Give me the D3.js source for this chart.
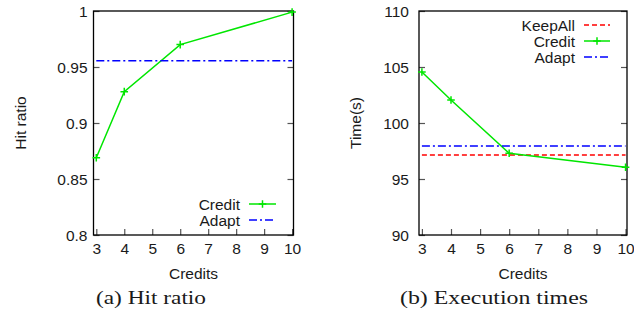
<!DOCTYPE html>
<html>
<head>
<meta charset="utf-8">
<script src="https://cdn.jsdelivr.net/npm/d3@7/dist/d3.min.js"></script>
<style>
  html, body { margin: 0; padding: 0; background: #fff; }
  svg { display: block; }
  .tick text { font-family: "Liberation Sans", Arial, sans-serif; font-size: 15.5px; fill: #1a1a1a; }
  .lbl { font-family: "Liberation Sans", Arial, sans-serif; font-size: 15.5px; fill: #1a1a1a; }
  .cap { font-family: "Liberation Serif", "Times New Roman", serif; font-size: 19px; fill: #1a1a1a; }
</style>
</head>
<body>
<svg id="chart" width="634" height="324"></svg>
<script>
// Shared x values (number of credits)
const credits = [3, 4, 6, 10];
const xTicks = [3, 4, 5, 6, 7, 8, 9, 10];

// (a) Hit ratio
const hitCredit = [0.869, 0.928, 0.970, 0.999];
const hitAdapt = 0.9555;
const hitTicks = [0.8, 0.85, 0.9, 0.95, 1];
const hitTickLabels = ["0.8", "0.85", "0.9", "0.95", "1"];

// (b) Execution times
const timeKeepAll = 97.15;
const timeCredit = [104.55, 102.05, 97.3, 96.05];
const timeAdapt = 97.95;
const timeTicks = [90, 95, 100, 105, 110];
const timeTickLabels = ["90", "95", "100", "105", "110"];

const COLORS = { KeepAll: "#ff0000", Credit: "#00e600", Adapt: "#0000ff" };
const DASH = { KeepAll: "5,3", Credit: null, Adapt: "8,3,2,3" };

const svg = d3.select("#chart");

function plusPath(px, py, r) {
  return `M${px - r},${py}H${px + r}M${px},${py - r}V${py + r}`;
}

function drawPanel(cfg) {
  const x = d3.scaleLinear().domain([2.9, 10.05]).range([cfg.left, cfg.right]);
  const y = d3.scaleLinear().domain(cfg.yDomain).range([cfg.bottom, cfg.top]);
  const g = svg.append("g");

  // Axes with inward ticks
  const yAxis = d3.axisLeft(y).tickValues(cfg.yTicks)
    .tickFormat((d, i) => cfg.yTickLabels[i]).tickSize(-6).tickPadding(cfg.yPad);
  const ya = g.append("g").attr("transform", `translate(${cfg.left},0)`).call(yAxis);
  const yAxisR = d3.axisRight(y).tickValues(cfg.yTicks).tickFormat("").tickSize(-6);
  const yr = g.append("g").attr("transform", `translate(${cfg.right},0)`).call(yAxisR);
  const xAxis = d3.axisBottom(x).tickValues(xTicks).tickSize(-6).tickPadding(8);
  const xa = g.append("g").attr("transform", `translate(0,${cfg.bottom})`).call(xAxis);
  [ya, yr, xa].forEach(a => {
    a.select(".domain").remove();
    a.selectAll(".tick line").attr("stroke", "#555").attr("stroke-width", 1.2);
  });
  ya.selectAll(".tick text").attr("dy", "0.36em");

  // Frame
  g.append("rect")
    .attr("x", cfg.left).attr("y", cfg.top)
    .attr("width", cfg.right - cfg.left).attr("height", cfg.bottom - cfg.top)
    .attr("fill", "none").attr("stroke", "#000").attr("stroke-width", 1.3);

  // Series
  cfg.series.forEach(s => {
    if (s.constant !== undefined) {
      g.append("line")
        .attr("x1", x(3)).attr("x2", x(10))
        .attr("y1", y(s.constant)).attr("y2", y(s.constant))
        .attr("stroke", COLORS[s.name]).attr("stroke-width", 1.5)
        .attr("stroke-dasharray", DASH[s.name]);
    } else {
      const pts = credits.map((c, i) => [x(c), y(s.values[i])]);
      g.append("path").attr("d", d3.line()(pts))
        .attr("fill", "none").attr("stroke", COLORS[s.name]).attr("stroke-width", 1.5);
      g.append("path").attr("d", pts.map(p => plusPath(p[0], p[1], 3.8)).join(""))
        .attr("fill", "none").attr("stroke", COLORS[s.name]).attr("stroke-width", 1.5);
    }
  });

  // Legend
  cfg.legend.names.forEach((name, i) => {
    const ly = cfg.legend.y + i * 16;
    g.append("text").attr("class", "lbl")
      .attr("x", cfg.legend.textX).attr("y", ly).attr("dy", "0.36em")
      .attr("text-anchor", "end").text(name);
    g.append("line")
      .attr("x1", cfg.legend.lineX0).attr("x2", cfg.legend.lineX1)
      .attr("y1", ly).attr("y2", ly)
      .attr("stroke", COLORS[name]).attr("stroke-width", 1.5)
      .attr("stroke-dasharray", DASH[name]);
    if (name === "Credit") {
      const mx = (cfg.legend.lineX0 + cfg.legend.lineX1) / 2;
      g.append("path").attr("d", plusPath(mx, ly, 3.8))
        .attr("stroke", COLORS[name]).attr("stroke-width", 1.5);
    }
  });

  // Axis titles
  g.append("text").attr("class", "lbl")
    .attr("transform", `translate(${cfg.yTitleX},${(cfg.top + cfg.bottom) / 2}) rotate(-90)`)
    .attr("text-anchor", "middle").attr("dy", "0.36em").text(cfg.yTitle);
  g.append("text").attr("class", "lbl")
    .attr("x", (cfg.left + cfg.right) / 2).attr("y", 279)
    .attr("text-anchor", "middle").text("Credits");

  // Caption
  g.append("text").attr("class", "cap")
    .attr("x", cfg.capX - cfg.capW / 2).attr("y", 304)
    .attr("textLength", cfg.capW).attr("lengthAdjust", "spacingAndGlyphs")
    .text(cfg.caption);
}

drawPanel({
  left: 93.5, right: 293.5, top: 11, bottom: 235,
  yDomain: [0.8, 1], yTicks: hitTicks, yTickLabels: hitTickLabels, yPad: 6,
  series: [
    { name: "Credit", values: hitCredit },
    { name: "Adapt", constant: hitAdapt }
  ],
  legend: { names: ["Credit", "Adapt"], y: 204, textX: 240, lineX0: 249, lineX1: 276 },
  yTitle: "Hit ratio", yTitleX: 20,
  caption: "(a) Hit ratio", capX: 151, capW: 110
});

drawPanel({
  left: 419, right: 627, top: 11, bottom: 235,
  yDomain: [90, 110], yTicks: timeTicks, yTickLabels: timeTickLabels, yPad: 10,
  series: [
    { name: "KeepAll", constant: timeKeepAll },
    { name: "Credit", values: timeCredit },
    { name: "Adapt", constant: timeAdapt }
  ],
  legend: { names: ["KeepAll", "Credit", "Adapt"], y: 25, textX: 575, lineX0: 584, lineX1: 610 },
  yTitle: "Time(s)", yTitleX: 355,
  caption: "(b) Execution times", capX: 494, capW: 188
});
</script>
</body>
</html>
